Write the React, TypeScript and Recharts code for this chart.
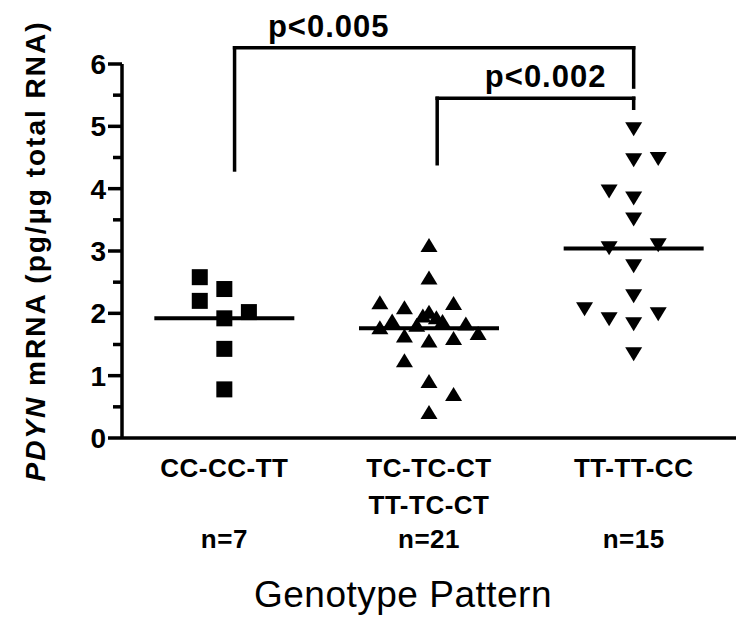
import { ReferenceDot, ReferenceLine, Scatter, ScatterChart, XAxis, YAxis } from "recharts"

// groups along the x axis
const groups = [1, 2, 3]
const catLine1 = ["CC-CC-TT", "TC-TC-CT", "TT-TT-CC"]
const catLine2 = ["", "TT-TC-CT", ""]
const counts = ["n=7", "n=21", "n=15"]

// PDYN mRNA values; cols = horizontal jitter column
const ccValues = [2.58, 2.2, 2.39, 1.92, 2.02, 1.43, 0.78]
const ccCols = [-1, -1, 0, 0, 1, 0, 0]
const tcValues = [3.08, 2.56, 2.16, 2.08, 2.15, 1.76, 1.87, 1.82, 1.67, 1.63, 1.55, 1.59, 1.23, 0.9, 0.69, 0.4, 1.95, 2.01, 1.92, 1.86, 1.8]
const tcCols = [0, 0, -2, -1, 1, -2, -1.5, 1.5, 2, -1, 0, 1, -1, 0, 1, 0, -0.25, 0, 0.3, 0.55, -0.5]
const ttValues = [4.97, 4.47, 4.49, 3.97, 3.86, 3.52, 3.06, 3.11, 2.77, 2.29, 2.08, 1.92, 1.84, 2.0, 1.36]
const ttCols = [0, 0, 1, -1, 0, 0, -1, 1, 0, 0, -2, -1, 0, 1, 0]
const medians = [1.92, 1.76, 3.04]

const yTicks = [0, 0.5, 1, 1.5, 2, 2.5, 3, 3.5, 4, 4.5, 5, 5.5, 6]

// significance brackets
const pLabels = ["p<0.005", "p<0.002"]
const pLabelX = [1.51, 2.57]
const bracketFrom = [1.05, 2.04]
const bracketTo = [3.0, 3.0]
const bracketTop = [6.26, 5.45]
const leftFoot = [4.3, 4.4]
const rightFoot = [5.63, 5.29]

const JITTER = 0.12
const FONT = "'Liberation Sans', Arial, Helvetica, sans-serif"

const toPoints = (g: number, values: number[], cols: number[]) =>
  values.map((v, i) => ({ x: g + cols[i] * JITTER, y: v }))

const ccData = toPoints(1, ccValues, ccCols)
const tcData = toPoints(2, tcValues, tcCols)
const ttData = toPoints(3, ttValues, ttCols)

const Square = ({ cx, cy }: any) => <rect x={cx - 8} y={cy - 8} width={16} height={16} fill="#000" />
const TriUp = ({ cx, cy }: any) => (
  <path d={`M${cx},${cy - 8} L${cx + 8.5},${cy + 6} L${cx - 8.5},${cy + 6} Z`} fill="#000" />
)
const TriDown = ({ cx, cy }: any) => (
  <path d={`M${cx - 8.5},${cy - 6} L${cx + 8.5},${cy - 6} L${cx},${cy + 8} Z`} fill="#000" />
)

const YTick = ({ x, y, payload }: any) => {
  const major = Number.isInteger(payload.value)
  const len = major ? 14 : 9
  return (
    <g>
      <line x1={x - len} x2={x} y1={y} y2={y} stroke="#000" strokeWidth={3.5} />
      {major && (
        <text x={x - 16} y={y} dy="0.36em" textAnchor="end" fontSize={28} fontWeight="bold" fontFamily={FONT} fill="#000">
          {payload.value}
        </text>
      )}
    </g>
  )
}

const CatTick = ({ x, y, payload }: any) => {
  const i = groups.indexOf(payload.value)
  if (i < 0) return null
  const style = { fontSize: 26, fontWeight: "bold" as const, fontFamily: FONT, fill: "#000", letterSpacing: 0.5 }
  return (
    <g>
      <text x={x} y={y + 39} textAnchor="middle" {...style}>{catLine1[i]}</text>
      {catLine2[i] && <text x={x} y={y + 76} textAnchor="middle" {...style}>{catLine2[i]}</text>}
      <text x={x} y={y + 110} textAnchor="middle" {...style}>{counts[i]}</text>
    </g>
  )
}

const YLabel = ({ viewBox }: any) => {
  const cy = viewBox ? viewBox.y + viewBox.height / 2 : 251
  return (
    <text
      transform={`translate(45, ${cy}) rotate(-90)`}
      textAnchor="middle"
      fontSize={28}
      fontWeight="bold"
      fontFamily={FONT}
      letterSpacing={2}
      fill="#000"
    >
      <tspan fontStyle="italic">PDYN</tspan> mRNA (pg/µg total RNA)
    </text>
  )
}

const XLabel = ({ viewBox }: any) => (
  <text x={viewBox.x + 281} y={607} textAnchor="middle" fontSize={37} fontFamily={FONT} letterSpacing={0.5} fill="#000">
    Genotype Pattern
  </text>
)

export default function App() {
  const line = { stroke: "#000", strokeWidth: 3.5 }
  return (
    <div style={{ position: "absolute", left: 0, top: 0, width: 742, height: 618, background: "#fff" }}>
      <ScatterChart width={742} height={618} margin={{ top: 64, right: 6, bottom: 0, left: 0 }}>
        <XAxis
          type="number"
          dataKey="x"
          domain={[0.5, 3.5]}
          ticks={groups}
          interval={0}
          height={180}
          tickSize={0}
          tickMargin={0}
          tickLine={false}
          axisLine={line}
          tick={<CatTick />}
          label={{ content: (p: any) => <XLabel {...p} /> }}
          allowDataOverflow
        />
        <YAxis
          type="number"
          dataKey="y"
          domain={[0, 6]}
          ticks={yTicks}
          interval={0}
          width={122}
          tickSize={0}
          tickMargin={0}
          tickLine={false}
          axisLine={line}
          tick={<YTick />}
          label={{ content: (p: any) => <YLabel {...p} /> }}
          allowDataOverflow
        />
        {groups.map((g, i) => (
          <ReferenceLine
            key={`m${g}`}
            segment={[{ x: g - 0.342, y: medians[i] }, { x: g + 0.342, y: medians[i] }]}
            stroke="#000"
            strokeWidth={4}
            ifOverflow="visible"
          />
        ))}
        <Scatter data={ccData} shape={(p: any) => <Square {...p} />} isAnimationActive={false} />
        <Scatter data={tcData} shape={(p: any) => <TriUp {...p} />} isAnimationActive={false} />
        <Scatter data={ttData} shape={(p: any) => <TriDown {...p} />} isAnimationActive={false} />
        {pLabels.map((lab, i) => [
          <ReferenceLine
            key={`bh${i}`}
            segment={[{ x: bracketFrom[i], y: bracketTop[i] }, { x: bracketTo[i], y: bracketTop[i] }]}
            stroke="#000"
            strokeWidth={3.5}
            strokeLinecap="square"
            ifOverflow="visible"
          />,
          <ReferenceLine
            key={`bl${i}`}
            segment={[{ x: bracketFrom[i], y: bracketTop[i] }, { x: bracketFrom[i], y: leftFoot[i] }]}
            stroke="#000"
            strokeWidth={3.5}
            strokeLinecap="square"
            ifOverflow="visible"
          />,
          <ReferenceLine
            key={`br${i}`}
            segment={[{ x: bracketTo[i], y: bracketTop[i] }, { x: bracketTo[i], y: rightFoot[i] }]}
            stroke="#000"
            strokeWidth={3.5}
            strokeLinecap="square"
            ifOverflow="visible"
          />,
          <ReferenceDot
            key={`bt${i}`}
            x={pLabelX[i]}
            y={bracketTop[i]}
            r={0}
            fill="none"
            stroke="none"
            ifOverflow="visible"
            label={{
              value: lab,
              position: "top",
              offset: 11,
              fontSize: 31,
              fontWeight: "bold",
              fontFamily: FONT,
              fill: "#000",
              letterSpacing: 1,
            }}
          />,
        ])}
      </ScatterChart>
    </div>
  )
}
